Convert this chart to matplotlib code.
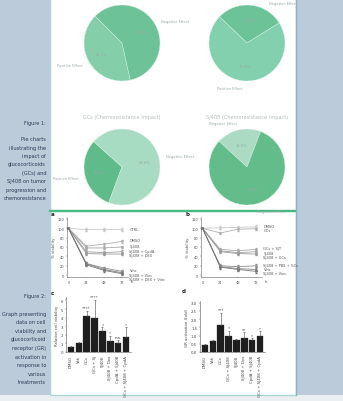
import matplotlib
matplotlib.use("Agg")
import matplotlib.pyplot as plt
from matplotlib.patches import Rectangle
import numpy as np

W, H = 343, 402
plt.rcParams['font.family'] = ['DejaVu Sans']

# ---------------- data ----------------
pie_titles = ["", "", "GCs (Chemoresistance Impact)", "SJ408 (Chemoresistance Impact)"]
pie_labels = [["Positive Effect", "Negative Effect"],
              ["Negative Effect", "Positive Effect"],
              ["Positive Effect", "Negative Effect"],
              ["Negative Effect", "Negative Effect"]]
pie_values = [[41, 59], [29, 71], [31, 69], [19, 81]]
pie_start = [135, 32, 138, 69]

hours = [0, 24, 48, 72]
a_names = ["CTRL", "DMSO", "SJ408", "SJ408 + CpdA", "SJ408 + DEX",
           "Vinc", "SJ408 + Vinc", "SJ408 + DEX + Vinc"]
a_vals = [[100, 97, 97, 97],
          [100, 62, 66, 72],
          [100, 58, 58, 60],
          [100, 50, 48, 50],
          [100, 46, 45, 45],
          [100, 25, 15, 8],
          [100, 24, 12, 5],
          [100, 22, 10, 3]]
b_names = ["DMSO", "GCs", "GCs + SJT", "SJ408", "SJ408 + GCs",
           "SJ408 + PBS + GCs", "Vinc", "SJ408 + Vinc"]
b_vals = [[100, 101, 102, 103],
          [100, 90, 98, 99],
          [100, 55, 52, 55],
          [100, 52, 48, 50],
          [100, 50, 46, 45],
          [100, 20, 18, 20],
          [100, 18, 14, 12],
          [100, 17, 12, 8]]

c_cats = ["DMSO", "Veh", "GCs", "GCs + SJ", "SJ408", "SJ408 + Dex",
          "CpdA + SJ408", "GCs + SJ408 + CpdA"]
c_vals = [0.6, 1.1, 4.2, 4.0, 2.4, 1.3, 1.1, 1.7]
c_err = [0.1, 0.1, 0.6, 2.1, 0.5, 0.6, 0.3, 1.2]
c_sig = ["", "", "****", "****", "*", "*", "n.s.", "*"]

d_cats = ["DMSO", "Veh", "GCs", "GCs + SJ408", "SJ408", "SJ408 + Dex",
          "CpdA + SJ408", "GCs + SJ408 + CpdA"]
d_vals = [0.45, 0.65, 1.65, 1.0, 0.7, 0.85, 0.7, 0.95]
d_err = [0.05, 0.05, 0.75, 0.3, 0.1, 0.35, 0.15, 0.3]
d_sig = ["", "", "***", "*", "", "**", "*", "*"]

fig1_caption = ["Figure 1:", "", "Pie charts", "illustrating the", "impact of",
                "glucocorticoids", "(GCs) and", "SJ408 on tumor",
                "progression and", "chemoresistance"]
fig2_caption = ["Figure 2:", "", "Graph presenting", "data on cell", "viability and",
                "glucocorticoid", "receptor (GR)", "activation in",
                "response to", "various", "treatments"]

# ---------------- figure ----------------
fig = plt.figure(figsize=(W / 100, H / 100), dpi=100)
fig.patch.set_facecolor('#bccbda')

bg = fig.add_axes([0, 0, 1, 1])
bg.set_xlim(0, W)
bg.set_ylim(H, 0)
bg.axis('off')
bg.add_patch(Rectangle((0, 396), W, 8, color='#eceff2', lw=0))
bg.add_patch(Rectangle((50, -2), 246, 213, facecolor='white', edgecolor='#a9d6d2', lw=1.0))
bg.add_patch(Rectangle((50, 212), 246, 184, facecolor='white', edgecolor='#a9d6d2', lw=1.0))
bg.plot([50, 296], [212, 212], color='#47b985', lw=1.6)
bg.plot([295.5, 295.5], [0, 396], color='#8fb3ba', lw=1.0)

txtc = '#2b3856'
for i, line in enumerate(fig1_caption):
    bg.text(46, 123 + i * 8.4, line, ha='right', va='center', fontsize=3.6, color=txtc)
for i, line in enumerate(fig2_caption):
    bg.text(46, 297 + i * 8.6, line, ha='right', va='center', fontsize=3.6, color=txtc)


def ax_px(x0, y0, x1, y1):
    return fig.add_axes([x0 / W, 1 - y1 / H, (x1 - x0) / W, (y1 - y0) / H])


# ---------------- pies ----------------
pie_colors = [['#84cfaa', '#6dc298'],
              ['#6cc398', '#82d0ad'],
              ['#5fbc8a', '#a8dcc2'],
              ['#abdcc3', '#62bd8b']]
centers = [(122, 44), (247, 44), (122, 168), (247, 168)]
R = 38
for k in range(4):
    cx, cy = centers[k]
    ax = ax_px(cx - R, cy - R, cx + R, cy + R)
    wedges, texts, autotexts = ax.pie(
        pie_values[k], labels=pie_labels[k], colors=pie_colors[k],
        startangle=pie_start[k], counterclock=True, labeldistance=1.18,
        autopct='%1.1f%%', pctdistance=0.6, radius=1.0,
        textprops=dict(fontsize=2.6, color='#9aa8a8'),
        wedgeprops=dict(linewidth=0.3, edgecolor='#d8efe4'))
    if k == 1:
        x, y = texts[0].get_position()
        texts[0].set_position((x + 0.45, 1.06))
    ax.set_xlim(-1, 1)
    ax.set_ylim(-1, 1)
    ax.set_aspect('auto')
    if pie_titles[k]:
        bg.text(cx, 117, pie_titles[k], ha='center', va='center', fontsize=3.6, color='#b5bcbc')

# ---------------- line charts ----------------
line_grey = ['#c8c8c8', '#b0b0b0', '#a8a8a8', '#a0a0a0', '#989898', '#8c8c8c', '#808080', '#787878']


def line_chart(rect, names, vals, label_x, letter_xy, letter):
    ax = ax_px(*rect)
    for i, v in enumerate(vals):
        ax.errorbar(hours, v, yerr=[0, 3, 3, 3], color=line_grey[i], lw=0.6,
                    marker='o', ms=0.8, elinewidth=0.3, capsize=0.6)
    ax.set_xlim(-2, 80)
    ax.set_ylim(-4, 124)
    ax.set_xticks(hours)
    ax.set_yticks([0, 20, 40, 60, 80, 100, 120])
    ax.tick_params(labelsize=2.6, length=1, width=0.3, pad=1, colors='#555555')
    for s in ['top', 'right']:
        ax.spines[s].set_visible(False)
    for s in ['left', 'bottom']:
        ax.spines[s].set_linewidth(0.4)
        ax.spines[s].set_color('#666666')
    ax.set_ylabel('% viability', fontsize=2.8, labelpad=1, color='#555555')
    ax.set_xlabel('h', fontsize=2.8, color='#555555', labelpad=0)
    ax.xaxis.set_label_coords(1.07, -0.04)
    finals = [v[-1] for v in vals]
    order = np.argsort(finals)[::-1]
    ys = []
    prev = None
    for j in order:
        y = finals[j] + 2
        if prev is not None and y > prev - 9:
            y = prev - 9
        ys.append((j, y))
        prev = y
    for j, y in ys:
        ax.text(label_x, y, names[j], fontsize=2.6, color='#555555', va='center',
                clip_on=False)
    bg.text(letter_xy[0], letter_xy[1], letter, fontsize=4, fontweight='bold', color='#222222',
            ha='left', va='center')
    return ax


line_chart((67, 218, 128, 278), a_names, a_vals, 82, (51, 215), 'a')
line_chart((201, 218, 262, 278), b_names, b_vals, 82, (185, 215), 'b')

# ---------------- bar charts ----------------


def bar_chart(rect, cats, vals, err, sig, ymax, yticks, ylabel, letter_xy, letter):
    ax = ax_px(*rect)
    x = np.arange(len(cats))
    ax.bar(x, vals, width=0.8, color='#1f1f1f', edgecolor='#111111', lw=0.2)
    ax.errorbar(x, vals, yerr=[np.zeros(len(err)), err], fmt='none', ecolor='#444444',
                elinewidth=0.4, capsize=0.8, capthick=0.4)
    for i, s in enumerate(sig):
        if s:
            ax.text(x[i], vals[i] + err[i] + ymax * 0.02, s, ha='center', va='bottom',
                    fontsize=3, color='#333333')
    ax.set_xlim(-0.6, len(cats) - 0.4)
    ax.set_ylim(0, ymax)
    ax.set_yticks(yticks)
    ax.set_xticks(x)
    ax.set_xticklabels(cats, rotation=90, fontsize=2.8)
    ax.tick_params(labelsize=2.8, length=1, width=0.3, pad=1, colors='#444444')
    for s in ['top', 'right']:
        ax.spines[s].set_visible(False)
    for s in ['left', 'bottom']:
        ax.spines[s].set_linewidth(0.4)
        ax.spines[s].set_color('#555555')
    ax.set_ylabel(ylabel, fontsize=2.8, labelpad=1.5, color='#444444')
    bg.text(letter_xy[0], letter_xy[1], letter, fontsize=4, fontweight='bold', color='#222222',
            ha='left', va='center')
    return ax


bar_chart((66, 298, 131, 353), c_cats, c_vals, c_err, c_sig, 6.4, [0, 1, 2, 3, 4, 5, 6],
          'Relative cell viability', (51, 294), 'c')
bar_chart((200, 302, 265, 353), d_cats, d_vals, d_err, d_sig, 3.1,
          [0, 0.5, 1, 1.5, 2, 2.5, 3], 'GR activation (fold)', (182, 292), 'd')

fig.savefig('out.png', dpi=100, facecolor=fig.get_facecolor())
